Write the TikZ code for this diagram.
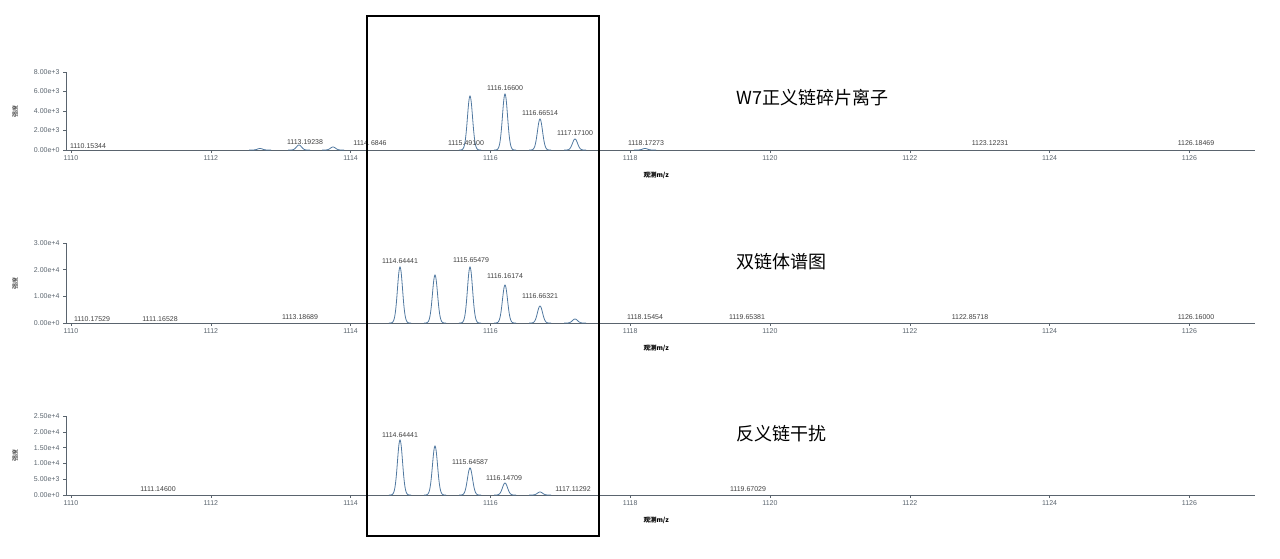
\documentclass[tikz,border=0pt]{standalone}
\usepackage{fontspec}
\setmainfont{Liberation Sans}
\newfontfamily\cjk{Noto Sans CJK SC}
\definecolor{spec}{RGB}{80,120,160}
\definecolor{ax}{RGB}{90,100,110}
\tikzset{x=1pt,y=-1pt,
 tick/.style={font=\fontsize{7}{8}\selectfont,text=ax},
 plab/.style={font=\fontsize{7}{8}\selectfont,text=black!75,inner sep=1pt},
 ttl/.style={font=\cjk\fontsize{18}{20}\selectfont,anchor=west},
 axl/.style={draw=ax,line width=0.5pt},
 sp/.style={draw=spec,line width=0.8pt}}
\newcommand{\pk}[3]{\draw[sp] plot[domain=-11:11,samples=45,smooth] ({#1+\x},{#2-#3*exp(-(\x/3.6)^2)});}
\newcommand{\panel}[4]{%
  \draw[axl] (66,#1) -- (1255,#1);
  \draw[axl] (66,#1) -- (66,#2);
  \foreach \v [count=\i from 0] in {#3} {
    \pgfmathsetmacro{\yy}{#1-\i*(#1-#2)/#4}
    \draw[axl] (63,\yy) -- (66,\yy);
    \node[tick,anchor=east] at (63,\yy) {\v};}
  \foreach \m in {1110,1112,...,1126}{
    \pgfmathsetmacro{\xx}{71+(\m-1110)*69.9}
    \draw[axl] (\xx,#1) -- (\xx,#1+3);
    \node[tick,anchor=north] at (\xx,#1+2) {\m};}
  \node[font=\cjk\fontsize{6}{7}\selectfont,rotate=90] at (15,{(#1+#2)/2}) {强度};
  \node[font=\cjk\bfseries\fontsize{6.5}{7}\selectfont,anchor=west] at (640,#1+25) {观测m/z};
}
\begin{document}
\begin{tikzpicture}
\useasboundingbox (0,0) rectangle (1280,558);
% top
\panel{150}{72}{0.00e+0,2.00e+3,4.00e+3,6.00e+3,8.00e+3}{4}
\pk{470}{150}{54}\pk{505}{150}{56}\pk{540}{150}{31}\pk{575}{150}{11}
\pk{299}{150}{5}\pk{333}{150}{3}\pk{260}{150}{1.5}\pk{645}{150}{1.5}
\node[plab,anchor=south] at (88,150) {1110.15344};
\node[plab,anchor=south] at (305,146) {1113.19238};
\node[plab,anchor=south] at (370,147) {1114.\,6846};
\node[plab,anchor=south] at (466,147) {1115.49100};
\node[plab,anchor=south] at (505,92) {1116.16600};
\node[plab,anchor=south] at (540,117) {1116.66514};
\node[plab,anchor=south] at (575,137) {1117.17100};
\node[plab,anchor=south] at (646,147) {1118.17273};
\node[plab,anchor=south] at (990,147) {1123.12231};
\node[plab,anchor=south] at (1196,147) {1126.18469};
% middle
\panel{323}{243}{0.00e+0,1.00e+4,2.00e+4,3.00e+4}{3}
\pk{400}{323}{56}\pk{435}{323}{48}\pk{470}{323}{56}\pk{505}{323}{38}\pk{540}{323}{17}\pk{575}{323}{4}
\node[plab,anchor=south] at (92,323) {1110.17529};
\node[plab,anchor=south] at (160,323) {1111.16528};
\node[plab,anchor=south] at (300,321) {1113.18689};
\node[plab,anchor=south] at (400,265) {1114.64441};
\node[plab,anchor=south] at (471,264) {1115.65479};
\node[plab,anchor=south] at (505,280) {1116.16174};
\node[plab,anchor=south] at (540,300) {1116.66321};
\node[plab,anchor=south] at (645,321) {1118.15454};
\node[plab,anchor=south] at (747,321) {1119.65381};
\node[plab,anchor=south] at (970,321) {1122.85718};
\node[plab,anchor=south] at (1196,321) {1126.16000};
% bottom
\panel{495}{416}{0.00e+0,5.00e+3,1.00e+4,1.50e+4,2.00e+4,2.50e+4}{5}
\pk{400}{495}{55}\pk{435}{495}{49}\pk{470}{495}{27}\pk{505}{495}{12}\pk{540}{495}{3}
\node[plab,anchor=south] at (158,493) {1111.14600};
\node[plab,anchor=south] at (400,439) {1114.64441};
\node[plab,anchor=south] at (470,466) {1115.64587};
\node[plab,anchor=south] at (504,482) {1116.14709};
\node[plab,anchor=south] at (573,493) {1117.11292};
\node[plab,anchor=south] at (748,493) {1119.67029};
% titles
\node[ttl] (t1) at (733,98) {W7正义链碎片离子};
\node[ttl] (t2) at (733,262) {双链体谱图};
\node[ttl] (t3) at (733,434) {反义链干扰};
% box
\draw[line width=1.8pt] (367,16) rectangle (599,536);
\end{tikzpicture}
\end{document}
